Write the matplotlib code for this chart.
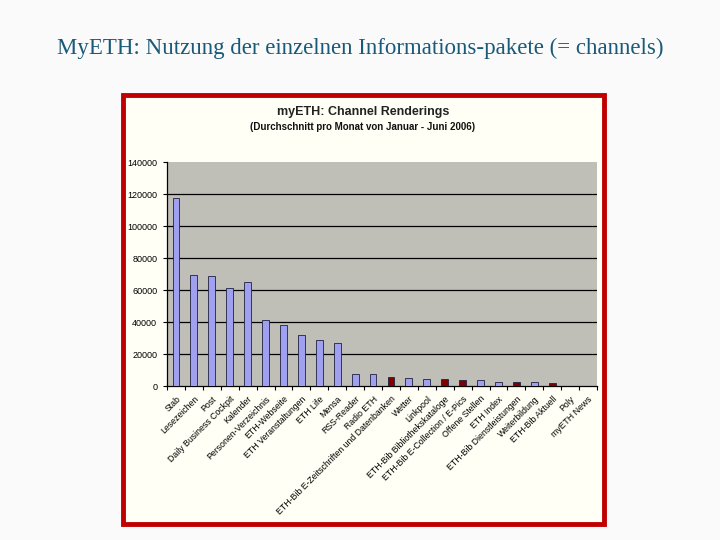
import matplotlib
matplotlib.use("Agg")
import matplotlib.pyplot as plt
from matplotlib.patches import Rectangle

categories = [
    "Stab", "Lesezeichen", "Post", "Daily Business Cockpit", "Kalender",
    "Personen-Verzeichnis", "ETH-Webseite", "ETH Veranstaltungen", "ETH Life",
    "Mensa", "RSS-Reader", "Radio ETH", "ETH-Bib E-Zeitschriften und Datenbanken",
    "Wetter", "Linkpool", "ETH-Bib Bibliothekskataloge",
    "ETH-Bib E-Collection / E-Pics", "Offene Stellen", "ETH Index",
    "ETH-Bib Dienstleistungen", "Weiterbildung", "ETH-Bib Aktuell", "Poly",
    "myETH News",
]
values = [117500, 69400, 68900, 61300, 65000, 41300, 38100, 31900, 28800,
          26900, 7500, 7500, 5600, 5000, 4600, 4400, 3800, 3800, 2500,
          2500, 2500, 1900, 0, 0]
is_bib = [False, False, False, False, False, False, False, False, False,
          False, False, False, True, False, False, True, True, False, False,
          True, False, True, False, False]
yticks = [0, 20000, 40000, 60000, 80000, 100000, 120000, 140000]

fig = plt.figure(figsize=(7.2, 5.4), dpi=100)
fig.patch.set_facecolor("#FAFAFA")

# slide title
fig.text(0.5, 0.91, "MyETH: Nutzung der einzelnen Informations-pakete (= channels)",
         ha="center", va="center", fontsize=16.5, family="Liberation Serif",
         color="#1A5A78")

# red framed chart image area
frame = Rectangle((122.5 / 720, 1 - 523.5 / 540), (603.5 - 122.5) / 720,
                  (523.5 - 94.5) / 540, transform=fig.transFigure,
                  facecolor="#FFFFF5", edgecolor="#C00000", linewidth=3.5,
                  zorder=-5)
fig.patches.append(frame)

fig.text(363 / 720, 1 - 112 / 540, "myETH: Channel Renderings", ha="center",
         va="center", fontsize=9, family="Liberation Sans",
         fontweight="bold", color="#222222")
fig.text(363 / 720, 1 - 127 / 540,
         "(Durchschnitt pro Monat von Januar - Juni 2006)", ha="center",
         va="center", fontsize=7, family="Liberation Sans",
         fontweight="bold", color="#111111")

ax = fig.add_axes([167 / 720, 1 - 386 / 540, (597 - 167) / 720,
                   (386 - 162) / 540])
ax.set_zorder(2)
ax.set_facecolor("#BFBFB7")
x = list(range(len(categories)))
colors = ["#800000" if b else "#A0A0F0" for b in is_bib]
ax.bar(x, values, width=0.38, color=colors, edgecolor="#202040",
       linewidth=0.6, zorder=3)
ax.set_xlim(-0.5, len(categories) - 0.5)
ax.set_ylim(0, 140000)
ax.set_yticks(yticks)
ax.set_yticklabels([str(v) for v in yticks], fontsize=6.5,
                   family="Liberation Sans")
for v in yticks[1:-1]:
    ax.axhline(v, color="black", linewidth=0.9, zorder=1)
ax.set_xticks(x)
ax.set_xticklabels(categories, rotation=45, ha="right",
                   rotation_mode="anchor", fontsize=6.3,
                   family="Liberation Sans")
ax.set_xticks([i - 0.5 for i in range(len(categories) + 1)], minor=True)
ax.tick_params(axis="x", which="major", length=0, pad=6)
ax.tick_params(axis="x", which="minor", length=3, width=0.8, direction="out")
ax.tick_params(axis="y", length=3, width=0.8, direction="out", pad=4)
for s in ["top", "right"]:
    ax.spines[s].set_visible(False)
ax.spines["left"].set_linewidth(0.9)
ax.spines["bottom"].set_linewidth(0.9)

fig.savefig("out.png", dpi=100, facecolor=fig.get_facecolor())
